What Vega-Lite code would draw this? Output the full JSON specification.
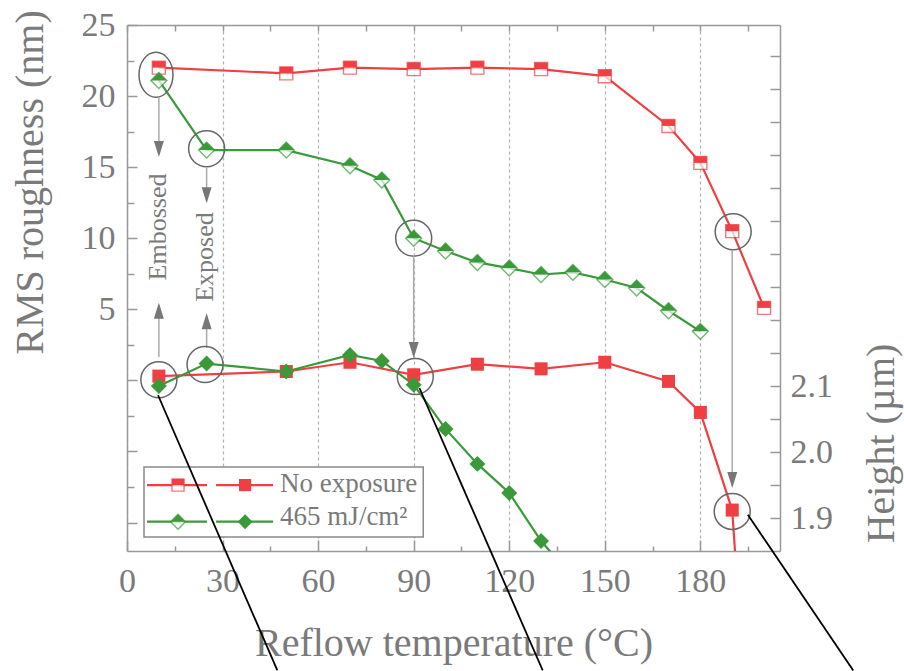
{
  "$schema": "https://vega.github.io/schema/vega-lite/v6.json",
  "width": 653,
  "height": 526,
  "autosize": {"type": "none"},
  "padding": {"left": 127, "top": 25, "right": 124, "bottom": 120},
  "background": "white",
  "config": {
    "view": {"stroke": null},
    "legend": {"disable": true},
    "axis": {
      "labelFont": "Liberation Serif",
      "titleFont": "Liberation Serif",
      "labelColor": "#7a7a7a",
      "titleColor": "#7a7a7a",
      "domainColor": "#999999",
      "tickColor": "#999999",
      "labelFontSize": 34,
      "titleFontSize": 40,
      "titleFontWeight": "normal",
      "domainWidth": 1.5,
      "tickWidth": 1.5,
      "grid": false,
      "labelFlush": false,
      "labelOverlap": false
    }
  },
  "datasets": {
    "rough": [
      {"t": 10, "v": 22.0, "s": "No exposure"},
      {"t": 50, "v": 21.6, "s": "No exposure"},
      {"t": 70, "v": 22.0, "s": "No exposure"},
      {"t": 90, "v": 21.9, "s": "No exposure"},
      {"t": 110, "v": 22.0, "s": "No exposure"},
      {"t": 130, "v": 21.9, "s": "No exposure"},
      {"t": 150, "v": 21.4, "s": "No exposure"},
      {"t": 170, "v": 17.9, "s": "No exposure"},
      {"t": 180, "v": 15.3, "s": "No exposure"},
      {"t": 190, "v": 10.5, "s": "No exposure"},
      {"t": 200, "v": 5.1, "s": "No exposure"},
      {"t": 10, "v": 21.1, "s": "465 mJ/cm²"},
      {"t": 25, "v": 16.2, "s": "465 mJ/cm²"},
      {"t": 50, "v": 16.2, "s": "465 mJ/cm²"},
      {"t": 70, "v": 15.1, "s": "465 mJ/cm²"},
      {"t": 80, "v": 14.1, "s": "465 mJ/cm²"},
      {"t": 90, "v": 10.0, "s": "465 mJ/cm²"},
      {"t": 100, "v": 9.1, "s": "465 mJ/cm²"},
      {"t": 110, "v": 8.3, "s": "465 mJ/cm²"},
      {"t": 120, "v": 7.9, "s": "465 mJ/cm²"},
      {"t": 130, "v": 7.45, "s": "465 mJ/cm²"},
      {"t": 140, "v": 7.6, "s": "465 mJ/cm²"},
      {"t": 150, "v": 7.1, "s": "465 mJ/cm²"},
      {"t": 160, "v": 6.5, "s": "465 mJ/cm²"},
      {"t": 170, "v": 4.9, "s": "465 mJ/cm²"},
      {"t": 180, "v": 3.45, "s": "465 mJ/cm²"}
    ],
    "height": [
      {"t": 10, "h": 2.115, "s": "No exposure"},
      {"t": 50, "h": 2.122, "s": "No exposure"},
      {"t": 70, "h": 2.136, "s": "No exposure"},
      {"t": 90, "h": 2.117, "s": "No exposure"},
      {"t": 110, "h": 2.133, "s": "No exposure"},
      {"t": 130, "h": 2.126, "s": "No exposure"},
      {"t": 150, "h": 2.136, "s": "No exposure"},
      {"t": 170, "h": 2.107, "s": "No exposure"},
      {"t": 180, "h": 2.060, "s": "No exposure"},
      {"t": 190, "h": 1.912, "s": "No exposure"},
      {"t": 200, "h": 1.2, "s": "No exposure"},
      {"t": 10, "h": 2.100, "s": "465 mJ/cm²"},
      {"t": 25, "h": 2.134, "s": "465 mJ/cm²"},
      {"t": 50, "h": 2.122, "s": "465 mJ/cm²"},
      {"t": 70, "h": 2.147, "s": "465 mJ/cm²"},
      {"t": 80, "h": 2.138, "s": "465 mJ/cm²"},
      {"t": 90, "h": 2.102, "s": "465 mJ/cm²"},
      {"t": 100, "h": 2.035, "s": "465 mJ/cm²"},
      {"t": 110, "h": 1.982, "s": "465 mJ/cm²"},
      {"t": 120, "h": 1.938, "s": "465 mJ/cm²"},
      {"t": 130, "h": 1.865, "s": "465 mJ/cm²"},
      {"t": 140, "h": 1.81, "s": "465 mJ/cm²"}
    ],
    "circlesR": [
      {"t": 25, "v": 16.3},
      {"t": 90, "v": 10.0},
      {"t": 190.3, "v": 10.46}
    ],
    "ellipseR": [
      {"t": 9.1, "v": 21.5}
    ],
    "circlesH": [
      {"t": 10, "h": 2.1095},
      {"t": 24.5, "h": 2.1325},
      {"t": 90.5, "h": 2.1145},
      {"t": 190, "h": 1.91}
    ],
    "arrowLines": [
      {"t": 10, "a": 19.94, "b": 15.9},
      {"t": 10, "a": 5.3, "b": 1.65},
      {"t": 25, "a": 14.94, "b": 12.6},
      {"t": 25, "a": 4.5, "b": 2.28},
      {"t": 90, "a": 8.82, "b": 1.8},
      {"t": 190, "a": 9.17, "b": -7.4}
    ],
    "headsDown": [
      {"t": 10, "v": 16.27},
      {"t": 25, "v": 13.02},
      {"t": 90, "v": 2.14},
      {"t": 190, "v": -7.0}
    ],
    "headsUp": [
      {"t": 10, "v": 4.9},
      {"t": 25, "v": 4.16}
    ],
    "notes": [
      {"t": 9.6, "v": 10.79, "label": "Embossed"},
      {"t": 24.6, "v": 8.68, "label": "Exposed"}
    ],
    "links": [
      {"t1": 9.75, "h1": 2.086, "t2": 47.2, "h2": 1.669},
      {"t1": 91.8, "h1": 2.097, "t2": 130.5, "h2": 1.669},
      {"t1": 194.9, "h1": 1.905, "t2": 228.0, "h2": 1.669}
    ],
    "legendBox": [
      {"x1": 5.34, "x2": 93.0, "y1": -6.09, "y2": -11.02}
    ],
    "legendLines": [
      {"s": "No exposure", "x1": 6.28, "x2": 25.13, "y": -7.36},
      {"s": "No exposure", "x1": 27.96, "x2": 45.87, "y": -7.36},
      {"s": "465 mJ/cm²", "x1": 6.28, "x2": 25.13, "y": -9.94},
      {"s": "465 mJ/cm²", "x1": 27.96, "x2": 45.87, "y": -9.94}
    ],
    "legendHalf": [
      {"s": "No exposure", "x": 16.02, "y": -7.36},
      {"s": "465 mJ/cm²", "x": 16.02, "y": -9.94}
    ],
    "legendFull": [
      {"s": "No exposure", "x": 37.07, "y": -7.36},
      {"s": "465 mJ/cm²", "x": 37.07, "y": -9.94}
    ],
    "legendText": [
      {"s": "No exposure", "x": 48.07, "y": -7.29},
      {"s": "465 mJ/cm²", "x": 48.07, "y": -9.61}
    ]
  },
  "layer": [
    {
      "layer": [
        {
          "data": {"name": "rough"},
          "mark": {"type": "line", "strokeWidth": 2.2},
          "encoding": {
            "x": {
              "field": "t", "type": "quantitative",
              "scale": {"domain": [0, 205], "nice": false, "zero": false},
              "axis": {
                "orient": "bottom",
                "values": [0, 30, 60, 90, 120, 150, 180],
                "tickSize": -11,
                "labelPadding": 24,
                "grid": true,
                "gridDash": [3, 3],
                "gridColor": "#b0b0b0",
                "gridWidth": 1.2,
                "title": "Reflow temperature (°C)",
                "titleX": 326.5,
                "titleY": 104,
                "titleBaseline": "alphabetic",
                "titleAlign": "center"
              }
            },
            "y": {
              "field": "v", "type": "quantitative",
              "scale": {"domain": [-12, 25], "nice": false, "zero": false},
              "axis": {
                "orient": "left",
                "values": [-10, -5, 0, 5, 10, 15, 20, 25],
                "tickSize": -10,
                "labelPadding": 22,
                "labelExpr": "datum.value >= 5 ? datum.label : ''",
                "title": "RMS roughness (nm)",
                "titleAngle": -90,
                "titleX": -85,
                "titleY": 157,
                "titleAlign": "center",
                "titleBaseline": "alphabetic"
              }
            },
            "color": {"field": "s", "type": "nominal", "scale": {"domain": ["No exposure", "465 mJ/cm²"], "range": ["#ef3f42", "#3a9a3a"]}},
            "detail": {"field": "s"}
          }
        },
        {
          "data": {"name": "rough"},
          "mark": {"type": "point", "filled": true, "fill": "white", "size": 196, "strokeWidth": 1.4},
          "encoding": {
            "x": {
              "field": "t", "type": "quantitative",
              "axis": {
                "orient": "bottom",
                "values": [15, 45, 75, 105, 135, 165, 195],
                "tickSize": -5,
                "labels": false,
                "domain": false,
                "grid": false,
                "title": null
              }
            },
            "y": {
              "field": "v", "type": "quantitative",
              "axis": {
                "orient": "left",
                "values": [-7.5, -2.5, 2.5, 7.5, 12.5, 17.5, 22.5],
                "tickSize": -7,
                "labels": false,
                "domain": false,
                "title": null
              }
            },
            "stroke": {"field": "s", "type": "nominal", "scale": {"domain": ["No exposure", "465 mJ/cm²"], "range": ["#ef3f42", "#3a9a3a"]}},
            "shape": {"field": "s", "type": "nominal", "scale": {"domain": ["No exposure", "465 mJ/cm²"], "range": ["M-0.93,-0.93L0.93,-0.93L0.93,0.93L-0.93,0.93Z", "M0,-1.14L1.14,0L0,1.14L-1.14,0Z"]}}
          }
        },
        {
          "data": {"name": "rough"},
          "mark": {"type": "point", "filled": true, "size": 196, "strokeWidth": 0, "opacity": 1},
          "encoding": {
            "x": {
              "field": "t", "type": "quantitative",
              "axis": {
                "orient": "top",
                "values": [0, 15, 30, 45, 60, 75, 90, 105, 120, 135, 150, 165, 180, 195],
                "tickSize": -6,
                "labels": false,
                "grid": false,
                "title": null
              }
            },
            "y": {"field": "v", "type": "quantitative", "axis": null},
            "color": {"field": "s", "type": "nominal", "scale": {"domain": ["No exposure", "465 mJ/cm²"], "range": ["#ef3f42", "#3a9a3a"]}},
            "shape": {"field": "s", "type": "nominal", "scale": {"domain": ["No exposure", "465 mJ/cm²"], "range": ["M-0.93,-0.93L0.93,-0.93L0.93,0L-0.93,0Z", "M-1.14,0L0,-1.14L1.14,0Z"]}}
          }
        },
        {
          "data": {"name": "circlesR"},
          "mark": {"type": "point", "shape": "circle", "filled": false, "size": 1296, "stroke": "#666666", "strokeWidth": 1.5, "opacity": 1},
          "encoding": {
            "x": {"field": "t", "type": "quantitative", "axis": null},
            "y": {"field": "v", "type": "quantitative", "axis": null}
          }
        },
        {
          "data": {"name": "ellipseR"},
          "mark": {"type": "point", "shape": "M0,-1.32A1,1.32 0 1,1 0,1.32A1,1.32 0 1,1 0,-1.32Z", "filled": false, "size": 1156, "stroke": "#666666", "strokeWidth": 1.5, "opacity": 1},
          "encoding": {
            "x": {"field": "t", "type": "quantitative", "axis": null},
            "y": {"field": "v", "type": "quantitative", "axis": null}
          }
        },
        {
          "data": {"name": "arrowLines"},
          "mark": {"type": "rule", "color": "#aaaaaa", "strokeWidth": 1.5},
          "encoding": {
            "x": {"field": "t", "type": "quantitative", "axis": null},
            "y": {"field": "a", "type": "quantitative", "axis": null},
            "y2": {"field": "b"}
          }
        },
        {
          "data": {"name": "headsDown"},
          "mark": {"type": "point", "shape": "M0,1L-0.625,-1L0.625,-1Z", "filled": true, "size": 256, "color": "#777777", "opacity": 1},
          "encoding": {
            "x": {"field": "t", "type": "quantitative", "axis": null},
            "y": {"field": "v", "type": "quantitative", "axis": null}
          }
        },
        {
          "data": {"name": "headsUp"},
          "mark": {"type": "point", "shape": "M0,-1L-0.625,1L0.625,1Z", "filled": true, "size": 256, "color": "#777777", "opacity": 1},
          "encoding": {
            "x": {"field": "t", "type": "quantitative", "axis": null},
            "y": {"field": "v", "type": "quantitative", "axis": null}
          }
        },
        {
          "data": {"name": "notes"},
          "mark": {"type": "text", "angle": 270, "font": "Liberation Serif", "fontSize": 26, "color": "#7a7a7a", "align": "center", "baseline": "middle"},
          "encoding": {
            "x": {"field": "t", "type": "quantitative", "axis": null},
            "y": {"field": "v", "type": "quantitative", "axis": null},
            "text": {"field": "label"}
          }
        },
        {
          "data": {"name": "legendBox"},
          "mark": {"type": "rect", "fill": "white", "stroke": "#8a8a8a", "strokeWidth": 1.5},
          "encoding": {
            "x": {"field": "x1", "type": "quantitative", "axis": null},
            "x2": {"field": "x2"},
            "y": {"field": "y1", "type": "quantitative", "axis": null},
            "y2": {"field": "y2"}
          }
        },
        {
          "data": {"name": "legendLines"},
          "mark": {"type": "rule", "strokeWidth": 2.2},
          "encoding": {
            "x": {"field": "x1", "type": "quantitative", "axis": null},
            "x2": {"field": "x2"},
            "y": {"field": "y", "type": "quantitative", "axis": null},
            "color": {"field": "s", "type": "nominal", "scale": {"domain": ["No exposure", "465 mJ/cm²"], "range": ["#ef3f42", "#3a9a3a"]}}
          }
        },
        {
          "data": {"name": "legendHalf"},
          "mark": {"type": "point", "filled": true, "fill": "white", "size": 170, "strokeWidth": 1.4},
          "encoding": {
            "x": {"field": "x", "type": "quantitative", "axis": null},
            "y": {"field": "y", "type": "quantitative", "axis": null},
            "stroke": {"field": "s", "type": "nominal", "scale": {"domain": ["No exposure", "465 mJ/cm²"], "range": ["#ef3f42", "#3a9a3a"]}},
            "shape": {"field": "s", "type": "nominal", "scale": {"domain": ["No exposure", "465 mJ/cm²"], "range": ["M-0.93,-0.93L0.93,-0.93L0.93,0.93L-0.93,0.93Z", "M0,-1.14L1.14,0L0,1.14L-1.14,0Z"]}}
          }
        },
        {
          "data": {"name": "legendHalf"},
          "mark": {"type": "point", "filled": true, "size": 170, "strokeWidth": 0, "opacity": 1},
          "encoding": {
            "x": {"field": "x", "type": "quantitative", "axis": null},
            "y": {"field": "y", "type": "quantitative", "axis": null},
            "color": {"field": "s", "type": "nominal", "scale": {"domain": ["No exposure", "465 mJ/cm²"], "range": ["#ef3f42", "#3a9a3a"]}},
            "shape": {"field": "s", "type": "nominal", "scale": {"domain": ["No exposure", "465 mJ/cm²"], "range": ["M-0.93,-0.93L0.93,-0.93L0.93,0L-0.93,0Z", "M-1.14,0L0,-1.14L1.14,0Z"]}}
          }
        },
        {
          "data": {"name": "legendFull"},
          "mark": {"type": "point", "filled": true, "size": 170, "strokeWidth": 0, "opacity": 1},
          "encoding": {
            "x": {"field": "x", "type": "quantitative", "axis": null},
            "y": {"field": "y", "type": "quantitative", "axis": null},
            "color": {"field": "s", "type": "nominal", "scale": {"domain": ["No exposure", "465 mJ/cm²"], "range": ["#ef3f42", "#3a9a3a"]}},
            "shape": {"field": "s", "type": "nominal", "scale": {"domain": ["No exposure", "465 mJ/cm²"], "range": ["M-0.93,-0.93L0.93,-0.93L0.93,0.93L-0.93,0.93Z", "M0,-1.14L1.14,0L0,1.14L-1.14,0Z"]}}
          }
        },
        {
          "data": {"name": "legendText"},
          "mark": {"type": "text", "font": "Liberation Serif", "fontSize": 27, "color": "#7a7a7a", "align": "left", "baseline": "middle"},
          "encoding": {
            "x": {"field": "x", "type": "quantitative", "axis": null},
            "y": {"field": "y", "type": "quantitative", "axis": null},
            "text": {"field": "s"}
          }
        }
      ],
      "resolve": {"scale": {"shape": "independent"}, "axis": {"x": "independent", "y": "independent"}}
    },
    {
      "layer": [
        {
          "data": {"name": "height"},
          "mark": {"type": "line", "strokeWidth": 2.2, "clip": true},
          "encoding": {
            "x": {"field": "t", "type": "quantitative", "axis": null},
            "y": {
              "field": "h", "type": "quantitative",
              "scale": {"domain": [1.85, 2.647], "nice": false, "zero": false},
              "axis": {
                "orient": "right",
                "values": [1.9, 1.95, 2.0, 2.05, 2.1, 2.15, 2.2, 2.25, 2.3, 2.35, 2.4, 2.45, 2.5, 2.55, 2.6],
                "tickSize": -10,
                "labelPadding": 20,
                "labelExpr": "datum.value < 2.12 && abs(datum.value * 10 - round(datum.value * 10)) < 0.01 ? format(datum.value, '.1f') : ''",
                "title": "Height (µm)",
                "titleAngle": -90,
                "titleX": 113,
                "titleY": 418,
                "titleAlign": "center",
                "titleBaseline": "alphabetic"
              }
            },
            "color": {"field": "s", "type": "nominal", "scale": {"domain": ["No exposure", "465 mJ/cm²"], "range": ["#ef3f42", "#3a9a3a"]}},
            "detail": {"field": "s"}
          }
        },
        {
          "data": {"name": "height"},
          "mark": {"type": "point", "filled": true, "size": 196, "strokeWidth": 0, "opacity": 1, "clip": true},
          "encoding": {
            "x": {"field": "t", "type": "quantitative", "axis": null},
            "y": {"field": "h", "type": "quantitative", "axis": null},
            "color": {"field": "s", "type": "nominal", "scale": {"domain": ["No exposure", "465 mJ/cm²"], "range": ["#ef3f42", "#3a9a3a"]}},
            "shape": {"field": "s", "type": "nominal", "scale": {"domain": ["No exposure", "465 mJ/cm²"], "range": ["M-0.93,-0.93L0.93,-0.93L0.93,0.93L-0.93,0.93Z", "M0,-1.14L1.14,0L0,1.14L-1.14,0Z"]}}
          }
        },
        {
          "data": {"name": "circlesH"},
          "mark": {"type": "point", "shape": "circle", "filled": false, "size": 1296, "stroke": "#666666", "strokeWidth": 1.5, "opacity": 1},
          "encoding": {
            "x": {"field": "t", "type": "quantitative", "axis": null},
            "y": {"field": "h", "type": "quantitative", "axis": null}
          }
        },
        {
          "data": {"name": "links"},
          "mark": {"type": "rule", "color": "black", "strokeWidth": 1.8},
          "encoding": {
            "x": {"field": "t1", "type": "quantitative", "axis": null},
            "y": {"field": "h1", "type": "quantitative", "axis": null},
            "x2": {"field": "t2"},
            "y2": {"field": "h2"}
          }
        }
      ],
      "resolve": {"axis": {"x": "independent", "y": "independent"}}
    }
  ],
  "resolve": {"scale": {"y": "independent"}}
}
